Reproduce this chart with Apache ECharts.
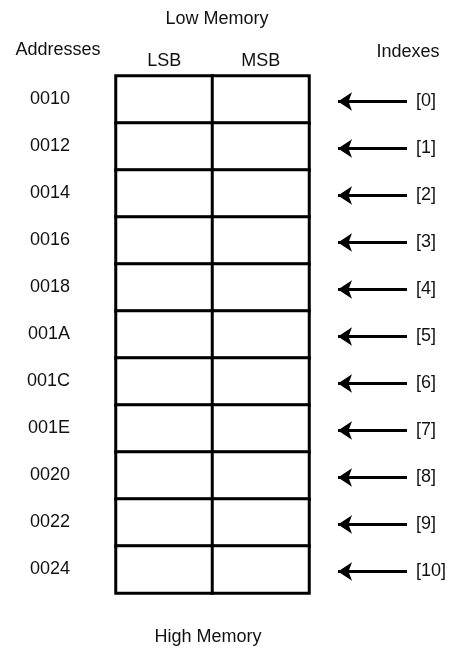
<!DOCTYPE html>
<html>
<head>
<meta charset="utf-8">
<script src="https://cdn.jsdelivr.net/npm/echarts@6/dist/echarts.min.js"></script>
<style>
html,body{margin:0;padding:0;background:#fff;}
#main{width:456px;height:650px;}
</style>
</head>
<body>
<div id="main"></div>
<script>
// Data
const columns = ['LSB', 'MSB'];
const addresses = ['0010', '0012', '0014', '0016', '0018', '001A', '001C', '001E', '0020', '0022', '0024'];
const indexes = ['[0]', '[1]', '[2]', '[3]', '[4]', '[5]', '[6]', '[7]', '[8]', '[9]', '[10]'];

const FONT = '"Liberation Sans", Arial, Helvetica, sans-serif';
const INK = '#111';

const cells = [];
addresses.forEach(function (a, r) {
  columns.forEach(function (c, k) {
    cells.push([k, r, 0]);
  });
});
const arrows = indexes.map(function (lab, r) {
  return { coords: [[77, r], [8, r]] };
});

const chart = echarts.init(document.getElementById('main'), null, { renderer: 'canvas' });
chart.setOption({
  backgroundColor: '#fff',
  animation: false,
  textStyle: { fontFamily: FONT },
  grid: [
    { left: 116, top: 76, width: 193, height: 517 },
    { left: 330, top: 78, width: 80, height: 517 }
  ],
  xAxis: [
    {
      gridIndex: 0, type: 'category', data: columns, position: 'top',
      axisLine: { show: false }, axisTick: { show: false }, splitLine: { show: false },
      axisLabel: { color: INK, fontSize: 18, fontFamily: FONT, margin: 6 }
    },
    {
      gridIndex: 1, type: 'value', min: 0, max: 80, show: false
    }
  ],
  yAxis: [
    {
      gridIndex: 0, type: 'category', data: addresses, inverse: true,
      axisLine: { show: false }, axisTick: { show: false }, splitLine: { show: false },
      axisLabel: { color: INK, fontSize: 18, fontFamily: FONT, margin: 46 }
    },
    {
      gridIndex: 1, type: 'category', data: indexes, inverse: true, position: 'right',
      axisLine: { show: false }, axisTick: { show: false }, splitLine: { show: false },
      axisLabel: { color: INK, fontSize: 18, fontFamily: FONT, margin: 6, align: 'left' }
    }
  ],
  series: [
    {
      type: 'heatmap', xAxisIndex: 0, yAxisIndex: 0, data: cells,
      itemStyle: { color: '#fff', borderColor: '#000', borderWidth: 3 },
      label: { show: false }, emphasis: { disabled: true }
    },
    {
      type: 'lines', coordinateSystem: 'cartesian2d', xAxisIndex: 1, yAxisIndex: 1,
      data: arrows, symbol: ['none', 'arrow'], symbolSize: [13, 14],
      lineStyle: { color: '#000', width: 3, opacity: 1, curveness: 0 },
      emphasis: { disabled: true }
    }
  ],
  graphic: [
    { type: 'text', left: 'center', top: 0, style: { text: '', fill: INK } },
    { type: 'text', x: 217, y: 19, style: { text: 'Low Memory', fill: INK, font: '18px ' + FONT, textAlign: 'center', textVerticalAlign: 'middle' } },
    { type: 'text', x: 58, y: 50, style: { text: 'Addresses', fill: INK, font: '18px ' + FONT, textAlign: 'center', textVerticalAlign: 'middle' } },
    { type: 'text', x: 408, y: 52, style: { text: 'Indexes', fill: INK, font: '18px ' + FONT, textAlign: 'center', textVerticalAlign: 'middle' } },
    { type: 'text', x: 208, y: 637, style: { text: 'High Memory', fill: INK, font: '18px ' + FONT, textAlign: 'center', textVerticalAlign: 'middle' } }
  ]
});
</script>
</body>
</html>
